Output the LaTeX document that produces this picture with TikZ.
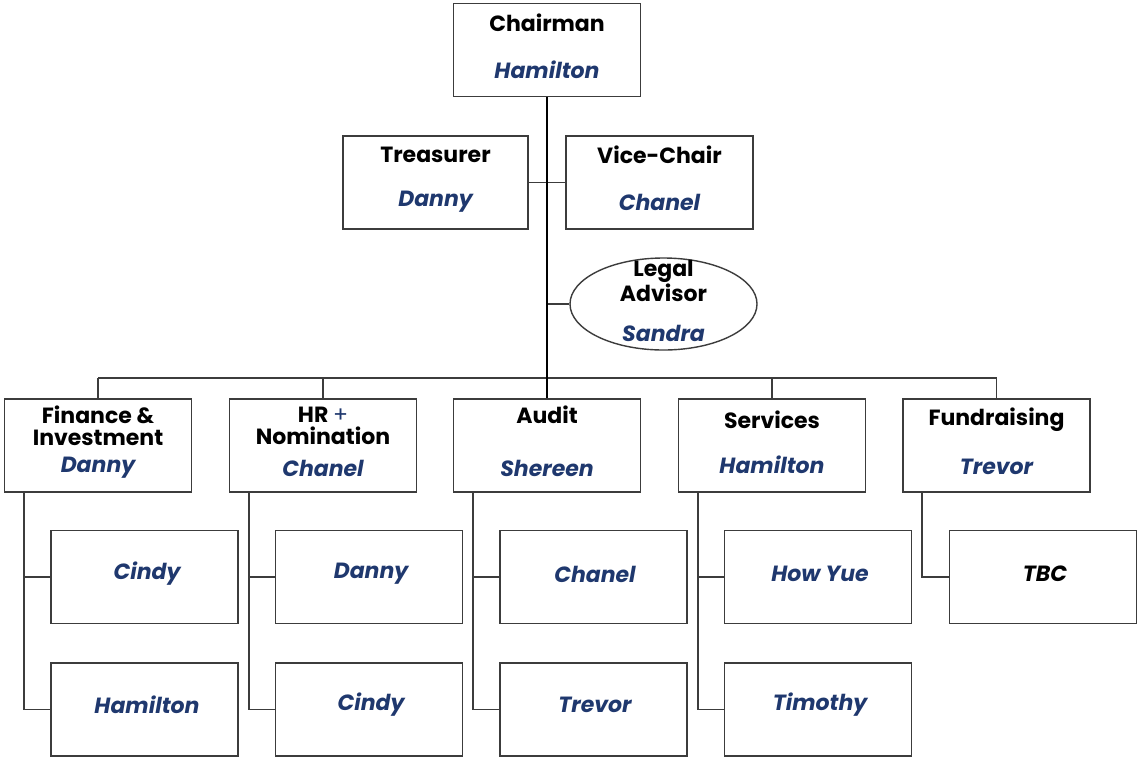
\documentclass[tikz,border=0pt]{standalone}
\usepackage{fontspec}
\setmainfont{Poppins}
\usetikzlibrary{shapes.geometric}
\definecolor{navy}{RGB}{31,56,110}
\definecolor{edge}{RGB}{60,60,60}
\tikzset{
  boxst/.style={draw=edge, line width=1.4pt, rectangle, minimum width=187pt, minimum height=93pt, inner sep=0pt},
  titlest/.style={font=\fontsize{22}{22}\selectfont\bfseries, text=black, align=center, inner sep=0pt},
  namest/.style={font=\fontsize{22}{22}\selectfont\bfseries\itshape, text=navy, inner sep=0pt},
  conn/.style={draw=edge, line width=1.4pt},
  mainline/.style={draw=black, line width=2pt},
}
\begin{document}
\begin{tikzpicture}[x=1pt,y=-1pt]
\useasboundingbox (0,0) rectangle (1137,758);
\fill[white] (0,0) rectangle (1137,758);
% top
\node[boxst] (chair) at (547,50) {};
\node[titlest] (chairT) at (547,23) {Chairman};
\node[namest] (chairN) at (547,70) {Hamilton};
\node[boxst, minimum width=185pt] (treas) at (435.5,182.5) {};
\node[titlest] (treasT) at (435.5,155) {Treasurer};
\node[namest] (treasN) at (435.5,202) {Danny};
\node[boxst] (vice) at (659.5,182.5) {};
\node[titlest] (viceT) at (659.5,155) {Vice-Chair};
\node[namest] (viceN) at (659.5,202) {Chanel};
\node[draw=edge, line width=1.4pt, ellipse, minimum width=187pt, minimum height=92pt, inner sep=0pt] (legal) at (663.5,304) {};
\node[titlest] (legalT) at (663.5,281) {Legal\\Advisor};
\node[namest] (legalN) at (663.5,333) {Sandra};
% level 2
\node[boxst] (fin) at (98,445.5) {};
\node[titlest] (finT) at (98,426) {Finance \&\\Investment};
\node[namest] (finN) at (98,468) {Danny};
\node[boxst] (hr) at (323,445.5) {};
\node[titlest] (hrT) at (323,426) {HR {\mdseries\color{navy}+}\\Nomination};
\node[namest] (hrN) at (323,468) {Chanel};
\node[boxst] (aud) at (547,445.5) {};
\node[titlest] (audT) at (547,415) {Audit};
\node[namest] (audN) at (547,468) {Shereen};
\node[boxst] (serv) at (772,445.5) {};
\node[titlest] (servT) at (772,420) {Services};
\node[namest] (servN) at (772,465) {Hamilton};
\node[boxst] (fund) at (996.5,445.5) {};
\node[titlest] (fundT) at (996.5,420) {Fundraising};
\node[namest] (fundN) at (996.5,467) {Trevor};
% level 3
\node[boxst] (fin1) at (144.5,577) {};
\node[namest] (fin1N) at (147,574) {Cindy};
\node[boxst] (fin2) at (144.5,709.5) {};
\node[namest] (fin2N) at (147,705) {Hamilton};
\node[boxst] (hr1) at (369,577) {};
\node[namest] (hr1N) at (371,574) {Danny};
\node[boxst] (hr2) at (369,709.5) {};
\node[namest] (hr2N) at (371,705) {Cindy};
\node[boxst] (aud1) at (593.5,577) {};
\node[namest] (aud1N) at (595,574) {Chanel};
\node[boxst] (aud2) at (593.5,709.5) {};
\node[namest] (aud2N) at (595,705) {Trevor};
\node[boxst] (serv1) at (818,577) {};
\node[namest] (serv1N) at (820,574) {How Yue};
\node[boxst] (serv2) at (818,709.5) {};
\node[namest] (serv2N) at (820,705) {Timothy};
\node[boxst] (fund1) at (1043,577) {};
\node[namest, text=black] (fund1N) at (1045,574) {TBC};
% connectors
\coordinate (bus) at (547,378);
\coordinate (busL) at (98,378);
\coordinate (busR) at (996.5,378);
\coordinate (lj) at (547,304);
\draw[conn] (treas.east) -- (vice.west);
\draw[conn] (lj) -- (legal.west);
\draw[conn] (busL) -- (busR);
\foreach \n in {fin,hr,serv,fund} \draw[conn] (\n.north) -- (\n.north |- bus);
\draw[mainline] (chair.south) -- (aud.north);
\coordinate (finV) at (24,492);
\coordinate (hrV) at (249,492);
\coordinate (audV) at (473,492);
\coordinate (servV) at (698,492);
\coordinate (fundV) at (922,492);
\foreach \n in {fin,hr,aud,serv} {
  \draw[conn] (\n V) |- (\n 2.west);
  \draw[conn] (\n V |- \n 1.west) -- (\n 1.west);
}
\draw[conn] (fundV) |- (fund1.west);
\end{tikzpicture}
\end{document}
